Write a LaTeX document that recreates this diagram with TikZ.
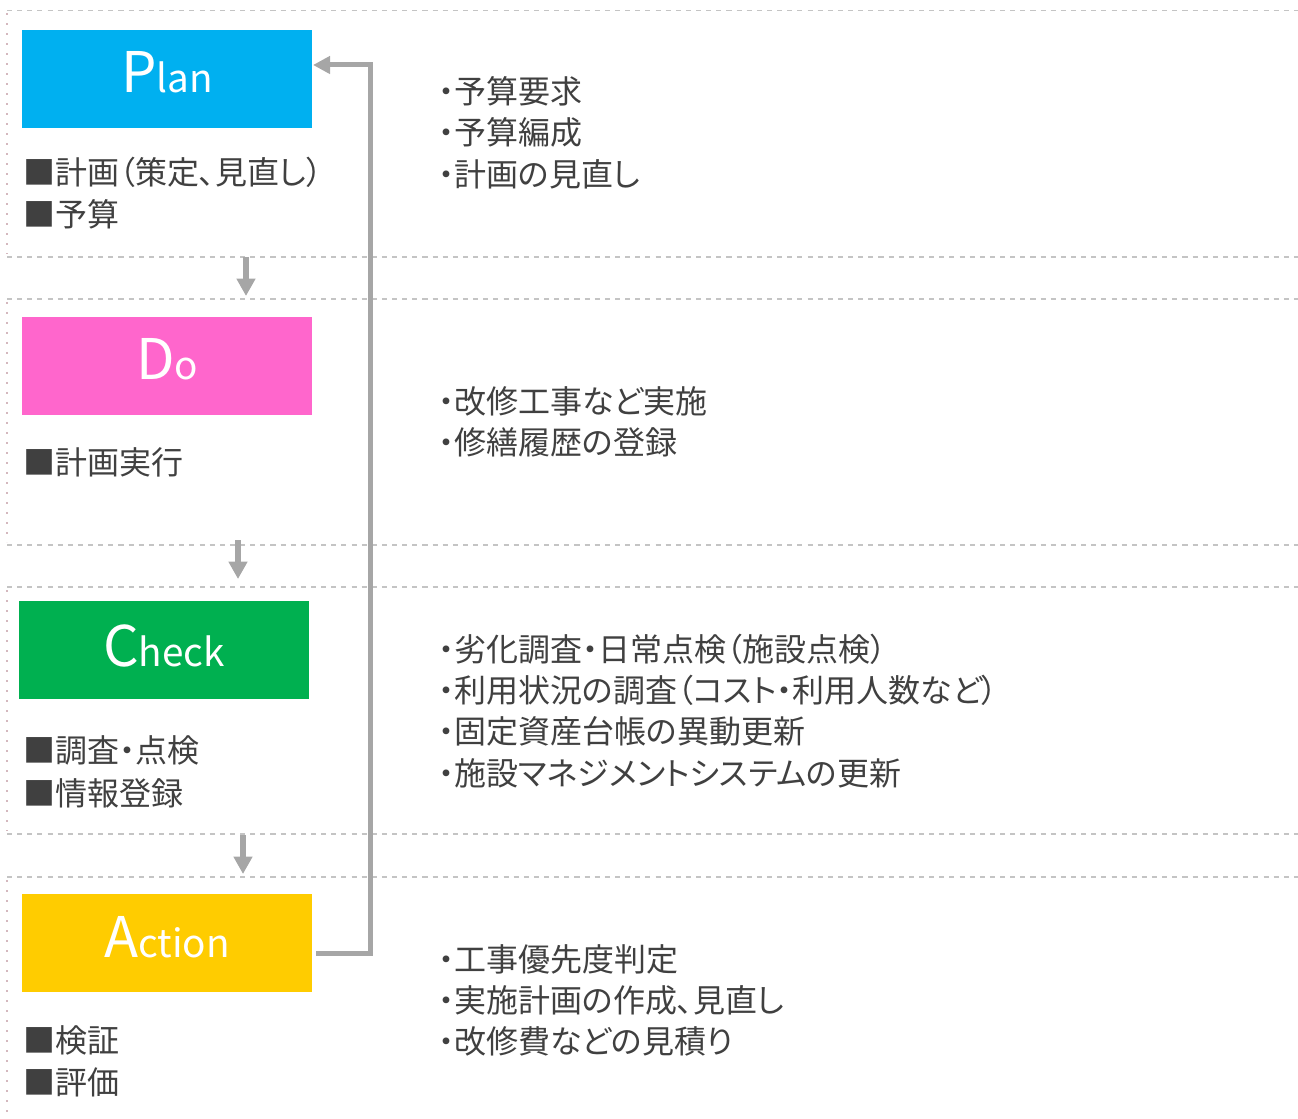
\documentclass[tikz,border=0pt]{standalone}
\usepackage{fontspec}
\setmainfont{Noto Sans CJK JP}[RawFeature={+palt}]
\newfontfamily\latinf{Noto Sans CJK JP}
\usetikzlibrary{arrows.meta}
\definecolor{txt}{HTML}{404040}
\definecolor{arr}{HTML}{A6A6A6}
\definecolor{dashc}{HTML}{C4C4C4}
\definecolor{dotc}{HTML}{D4B8BE}
\definecolor{planc}{HTML}{00B0F0}
\definecolor{doc}{HTML}{FF66CC}
\definecolor{checkc}{HTML}{00B050}
\definecolor{actc}{HTML}{FFCC00}
\newcommand\phname[2]{{\fontsize{42}{42}\selectfont #1}{\fontsize{29}{29}\selectfont #2}}
\tikzset{
  phasebox/.style={fill=#1, draw=none, minimum width=217.5pt, minimum height=73.5pt, inner sep=0pt, anchor=north west},
  phasetitle/.style={anchor=base, inner sep=0pt, text=white, font=\latinf},
  lefttxt/.style={anchor=base west, inner sep=0pt, text=txt, font=\fontsize{24}{30}\selectfont},
  righttxt/.style={anchor=base west, inner sep=0pt, text=txt, font=\fontsize{24}{30}\selectfont},
  sepline/.style={draw=dashc, line width=1.1pt, dash pattern=on 3.8pt off 3.8pt},
  sideline/.style={draw=dotc, line width=1.4pt, dash pattern=on 1.2pt off 6.3pt},
  downarrow/.style={draw=arr, line width=4.5pt, -{Triangle[width=13.5pt,length=13pt]}},
  backline/.style={draw=arr, line width=3.75pt},
}
\begin{document}
\begin{tikzpicture}[x=0.75pt, y=-0.75pt]
\useasboundingbox (0,0) rectangle (1298,1119);
% section frames
\foreach \t/\b in {10.5/257, 299/545, 587/834}{
  \draw[sepline] (7,\t) -- (1298,\t);
  \draw[sepline] (7,\b) -- (1298,\b);
  \draw[sideline] (7,\t+3) -- (7,\b-3);
}
\draw[sepline] (7,877) -- (1298,877);
\draw[sideline] (7,880) -- (7,1119);

% phase boxes
\node[phasebox=planc] (plan) at (22,30) {};
\node[phasebox=doc] (do) at (22,317) {};
\node[phasebox=checkc] (check) at (19,601) {};
\node[phasebox=actc] (action) at (22,894) {};
\node[phasetitle] (plant) at (167,93) {\phname{P}{lan}};
\node[phasetitle] (dot) at (167,380) {\phname{D}{o}};
\node[phasetitle] (checkt) at (164,666) {\phname{C}{heck}};
\node[phasetitle] (actiont) at (167,957) {\phname{A}{ction}};

% left texts
\node[lefttxt] (l1a) at (23,185) {■計画（策定、見直し）};
\node[lefttxt] (l1b) at (23,227) {■予算};
\node[lefttxt] (l2a) at (23,474) {■計画実行};
\node[lefttxt] (l3a) at (23,762) {■調査・点検};
\node[lefttxt] (l3b) at (23,805) {■情報登録};
\node[lefttxt] (l4a) at (23,1052) {■検証};
\node[lefttxt] (l4b) at (23,1094) {■評価};

% right texts
\node[righttxt] (r1a) at (438,104) {・予算要求};
\node[righttxt] (r1b) at (438,145) {・予算編成};
\node[righttxt] (r1c) at (438,187) {・計画の見直し};
\node[righttxt] (r2a) at (438,414) {・改修工事など実施};
\node[righttxt] (r2b) at (438,455) {・修繕履歴の登録};
\node[righttxt] (r3a) at (438,661) {・劣化調査・日常点検（施設点検）};
\node[righttxt] (r3b) at (438,702) {・利用状況の調査（コスト・利用人数など）};
\node[righttxt] (r3c) at (438,743) {・固定資産台帳の異動更新};
\node[righttxt] (r3d) at (438,785) {・施設マネジメントシステムの更新};
\node[righttxt] (r4a) at (438,971) {・工事優先度判定};
\node[righttxt] (r4b) at (438,1012) {・実施計画の作成、見直し};
\node[righttxt] (r4c) at (438,1053) {・改修費などの見積り};

% down arrows
\coordinate (a1s) at (246,257); \coordinate (a1e) at (246,296);
\coordinate (a2s) at (238,540); \coordinate (a2e) at (238,579);
\coordinate (a3s) at (243,835); \coordinate (a3e) at (243,874);
\draw[downarrow] (a1s) -- (a1e);
\draw[downarrow] (a2s) -- (a2e);
\draw[downarrow] (a3s) -- (a3e);

% feedback connector
\coordinate (fbstart) at (316,953);
\coordinate (fbcorner1) at (370,953);
\coordinate (fbcorner2) at (370,65);
\coordinate (fbend) at (313,65);
\draw[backline, -{Triangle[width=12.75pt,length=12.75pt]}, line join=miter]
  (fbstart) -- (fbcorner1) -- (fbcorner2) -- (fbend);
\end{tikzpicture}
\end{document}
